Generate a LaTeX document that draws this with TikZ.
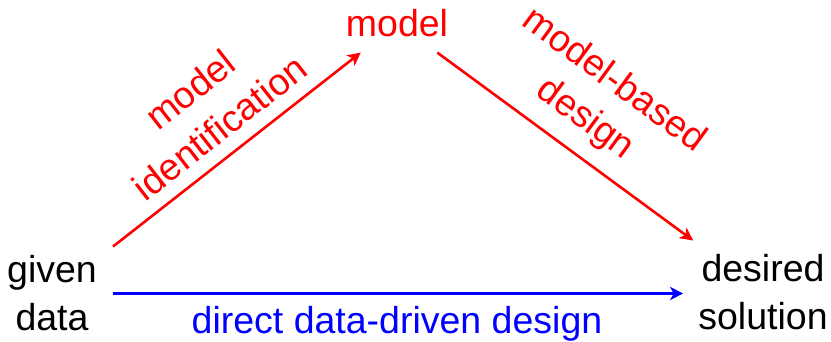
\documentclass[tikz,border=0pt]{standalone}
\usepackage{fontspec}
\setmainfont{Liberation Sans}
\usetikzlibrary{arrows.meta}
\begin{document}
\begin{tikzpicture}[x=1pt,y=-1pt,
  txt/.style={inner sep=0pt,font=\fontsize{37.5}{48}\selectfont},
  conn/.style={line width=2.6pt,-{Stealth[length=13pt,width=13pt,inset=3.5pt]}},
  lbl/.style={txt,align=center}]
\useasboundingbox (0,0) rectangle (831,342);
\node[txt,align=center] (gd) at (52,293.5) {given\\data};
\node[txt,align=center] (ds) at (763,292.5) {desired\\solution};
\node[txt,red,anchor=base] (md) at (397,37) {model};
\node[txt,blue,anchor=base] (dd) at (397,333) {direct data-driven design};
\draw[conn,red] ([shift={(16,-9)}]gd.north east) -- ([shift={(15,15)}]md.south west)
  node[lbl,red,midway,sloped,above=13pt] {model\\identification};
\draw[conn,red] ([shift={(-11,15)}]md.south east) -- ([shift={(-5,-14)}]ds.north west)
  node[lbl,red,midway,sloped,above=14.5pt] {model-based\\design};
\draw[conn,blue,shorten <=16pt,shorten >=15pt] (gd.east) -- (ds.west |- gd.east);
\end{tikzpicture}
\end{document}
